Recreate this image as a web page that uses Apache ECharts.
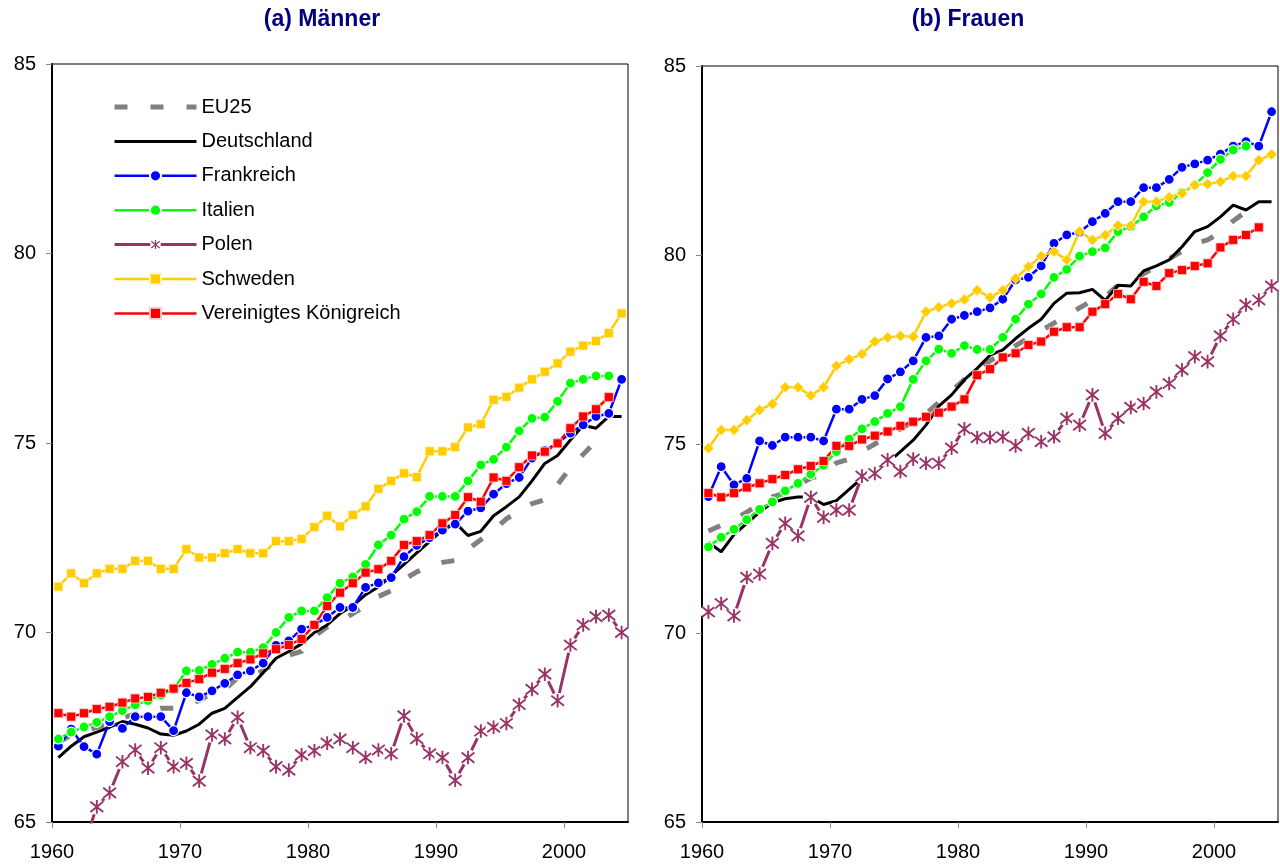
<!DOCTYPE html>
<html>
<head>
<meta charset="utf-8">
<title>Lebenserwartung</title>
<script src="https://cdn.jsdelivr.net/npm/echarts@6.0.0/dist/echarts.min.js"></script>
<style>
  html, body { margin: 0; padding: 0; background: #fff; }
  #chart { width: 1280px; height: 866px; }
</style>
</head>
<body>
<div id="chart"></div>
<script>
// Jahre 1960 - 2004
const years = [1960, 1961, 1962, 1963, 1964, 1965, 1966, 1967, 1968, 1969,
  1970, 1971, 1972, 1973, 1974, 1975, 1976, 1977, 1978, 1979,
  1980, 1981, 1982, 1983, 1984, 1985, 1986, 1987, 1988, 1989,
  1990, 1991, 1992, 1993, 1994, 1995, 1996, 1997, 1998, 1999,
  2000, 2001, 2002, 2003, 2004];
const xTicks = [1960, 1970, 1980, 1990, 2000];

// (a) Männer
const mEU25 = [67.1, 67.3, 67.4, 67.5, 67.6, 67.75, 67.85, 67.9, 68.0, 68.0,
  68.1, 68.2, 68.4, 68.5, 68.8, 68.8, 69.0, 69.2, 69.4, 69.5,
  69.9, 70.15, 70.3, 70.5, 70.7, 70.95, 71.1, 71.4, 71.6, 71.75,
  71.85, 71.9, 72.2, 72.45, 72.7, 73.0, 73.2, 73.4, 73.5, 73.9,
  74.35, 74.7, 75.05, null, null];
const mDE = [66.7, 67.0, 67.25, 67.37, 67.5, 67.65, 67.58, 67.48, 67.32, 67.29,
  67.4, 67.58, 67.87, 68.0, 68.29, 68.57, 68.94, 69.32, 69.5, 69.7,
  70.0, 70.2, 70.5, 70.7, 71.0, 71.2, 71.5, 71.8, 72.1, 72.4,
  72.7, 72.9, 72.56, 72.67, 73.08, 73.32, 73.58, 74.0, 74.46, 74.67,
  75.08, 75.47, 75.39, 75.7, 75.7];
const mFR = [67.0, 67.45, 66.99, 66.79, 67.65, 67.47, 67.78, 67.78, 67.78, 67.41,
  68.41, 68.3, 68.46, 68.66, 68.88, 68.99, 69.19, 69.66, 69.78, 70.09,
  70.2, 70.4, 70.66, 70.66, 71.19, 71.31, 71.45, 72.0, 72.3, 72.5,
  72.7, 72.86, 73.2, 73.29, 73.65, 73.93, 74.09, 74.6, 74.8, 75.0,
  75.26, 75.48, 75.7, 75.78, 76.68];
const mIT = [67.19, 67.37, 67.51, 67.63, 67.78, 67.94, 68.09, 68.2, 68.35, 68.5,
  68.99, 69.0, 69.16, 69.32, 69.48, 69.48, 69.6, 70.0, 70.4, 70.57,
  70.57, 70.92, 71.3, 71.47, 71.8, 72.31, 72.57, 72.99, 73.19, 73.59,
  73.59, 73.59, 74.0, 74.42, 74.57, 74.89, 75.32, 75.65, 75.68, 76.1,
  76.58, 76.68, 76.77, 76.77, null];
const mPL = [64.9, 64.85, 64.4, 65.4, 65.77, 66.59, 66.9, 66.42, 66.96, 66.46,
  66.55, 66.08, 67.3, 67.19, 67.76, 66.96, 66.88, 66.46, 66.37, 66.77,
  66.88, 67.08, 67.19, 66.96, 66.7, 66.9, 66.8, 67.8, 67.2, 66.8,
  66.7, 66.1, 66.7, 67.4, 67.5, 67.6, 68.1, 68.5, 68.9, 68.2,
  69.67, 70.2, 70.42, 70.46, 70.0];
const mSE = [71.21, 71.56, 71.3, 71.56, 71.68, 71.68, 71.89, 71.89, 71.68, 71.68,
  72.2, 71.98, 71.98, 72.09, 72.2, 72.09, 72.09, 72.41, 72.41, 72.47,
  72.78, 73.08, 72.8, 73.1, 73.33, 73.79, 74.0, 74.2, 74.1, 74.78,
  74.78, 74.89, 75.41, 75.5, 76.14, 76.22, 76.46, 76.68, 76.88, 77.1,
  77.41, 77.57, 77.69, 77.9, 78.42];
const mUK = [67.87, 67.78, 67.87, 67.98, 68.04, 68.15, 68.26, 68.3, 68.41, 68.52,
  68.67, 68.77, 68.94, 69.04, 69.19, 69.29, 69.45, 69.56, 69.67, 69.83,
  70.2, 70.7, 71.05, 71.3, 71.58, 71.67, 71.89, 72.31, 72.41, 72.57,
  72.88, 73.1, 73.57, 73.45, 74.09, 74.0, 74.36, 74.67, 74.77, 74.99,
  75.39, 75.7, 75.89, 76.21, null];

// (b) Frauen
const fEU25 = [72.7, 72.85, 73.0, 73.2, 73.4, 73.6, 73.7, 73.9, 74.1, 74.2,
  74.5, 74.6, 74.8, 75.0, 75.2, 75.4, 75.6, 75.8, 76.1, 76.4,
  76.7, 76.9, 77.2, 77.4, 77.6, 77.8, 78.0, 78.2, 78.4, 78.6,
  78.8, 78.9, 79.2, 79.3, 79.5, 79.7, 79.9, 80.1, 80.3, 80.4,
  80.6, 80.9, 81.15, null, null];
const fDE = [72.4, 72.15, 72.6, 72.9, 73.2, 73.45, 73.55, 73.6, 73.6, 73.4,
  73.5, 73.8, 74.1, 74.3, 74.5, 74.8, 75.1, 75.5, 76.0, 76.3,
  76.7, 77.0, 77.35, 77.49, 77.79, 78.06, 78.3, 78.72, 78.99, 79.0,
  79.09, 78.8, 79.2, 79.18, 79.58, 79.71, 79.87, 80.22, 80.62, 80.75,
  81.01, 81.32, 81.19, 81.41, 81.41];
const fFR = [73.61, 74.4, 73.92, 74.09, 75.08, 74.96, 75.18, 75.18, 75.18, 75.08,
  75.92, 75.92, 76.18, 76.28, 76.72, 76.91, 77.2, 77.82, 77.86, 78.3,
  78.4, 78.5, 78.6, 78.83, 79.34, 79.41, 79.71, 80.31, 80.53, 80.6,
  80.88, 81.1, 81.41, 81.41, 81.78, 81.78, 82.0, 82.32, 82.41, 82.51,
  82.67, 82.88, 83.0, 82.88, 83.79];
const fIT = [72.28, 72.53, 72.74, 73.0, 73.27, 73.47, 73.76, 73.96, 74.2, 74.44,
  74.8, 75.13, 75.4, 75.59, 75.81, 75.99, 76.71, 77.2, 77.51, 77.4,
  77.6, 77.5, 77.5, 77.82, 78.3, 78.7, 78.97, 79.41, 79.62, 79.97,
  80.09, 80.19, 80.62, 80.75, 81.01, 81.3, 81.39, 81.65, 81.85, 82.18,
  82.53, 82.78, 82.88, null, null];
const fPL = [70.56, 70.78, 70.45, 71.47, 71.56, 72.37, 72.9, 72.57, 73.59, 73.06,
  73.25, 73.25, 74.15, 74.22, 74.58, 74.27, 74.6, 74.49, 74.49, 74.89,
  75.4, 75.17, 75.17, 75.19, 74.95, 75.28, 75.06, 75.19, 75.68, 75.5,
  76.3, 75.28, 75.68, 75.97, 76.07, 76.38, 76.6, 76.96, 77.31, 77.18,
  77.86, 78.3, 78.68, 78.81, 79.18];
const fSE = [74.89, 75.37, 75.37, 75.63, 75.9, 76.06, 76.5, 76.5, 76.28, 76.5,
  77.07, 77.24, 77.38, 77.71, 77.82, 77.86, 77.84, 78.5, 78.62, 78.72,
  78.82, 79.07, 78.88, 79.07, 79.38, 79.69, 79.97, 80.09, 79.87, 80.62,
  80.4, 80.53, 80.78, 80.78, 81.41, 81.41, 81.53, 81.63, 81.85, 81.88,
  81.94, 82.09, 82.09, 82.51, 82.66];
const fUK = [73.7, 73.59, 73.7, 73.85, 73.96, 74.07, 74.18, 74.33, 74.42, 74.55,
  74.95, 74.95, 75.12, 75.22, 75.33, 75.48, 75.59, 75.72, 75.83, 75.99,
  76.18, 76.82, 76.98, 77.29, 77.4, 77.62, 77.71, 77.97, 78.09, 78.09,
  78.5, 78.7, 78.97, 78.83, 79.29, 79.18, 79.52, 79.6, 79.71, 79.78,
  80.2, 80.4, 80.53, 80.73, null];

const FONT = 'Liberation Sans, Arial, sans-serif';

// Stern-Symbol für Polen (weißer Hintergrund wie in Excel)
const starSvg = '<svg xmlns="http://www.w3.org/2000/svg" width="40" height="40" viewBox="-10 -10 20 20">' +
  '<circle r="9.5" fill="#ffffff"/>' +
  '<path d="M0,-8V8M-7.5,-6L7.5,6M-7.5,6L7.5,-6" stroke="#993366" stroke-width="2.2" fill="none"/></svg>';
const starSymbol = 'image://data:image/svg+xml;charset=utf-8,' + encodeURIComponent(starSvg);

// Werte zur Jahresmitte platzieren
const pairs = (vals) => years.map((y, i) => [y + 0.5, vals[i]]).filter((d) => d[1] != null);

const makeSeries = (idx, d) => [
  {
    name: 'EU25', type: 'line', xAxisIndex: idx, yAxisIndex: idx,
    data: pairs(d.eu), symbol: 'none',
    lineStyle: { color: '#808080', width: 5, type: [13, 23], cap: 'butt' },
    itemStyle: { color: '#808080' },
  },
  {
    name: 'Deutschland', type: 'line', xAxisIndex: idx, yAxisIndex: idx,
    data: pairs(d.de), symbol: 'none',
    lineStyle: { color: '#000000', width: 3 },
    itemStyle: { color: '#000000' },
  },
  {
    name: 'Frankreich', type: 'line', xAxisIndex: idx, yAxisIndex: idx,
    data: pairs(d.fr), symbol: 'circle', symbolSize: 10,
    lineStyle: { color: '#0000ff', width: 2.5 },
    itemStyle: { color: '#0000ff', borderColor: '#ffffff', borderWidth: 1.2 },
  },
  {
    name: 'Italien', type: 'line', xAxisIndex: idx, yAxisIndex: idx,
    data: pairs(d.it), symbol: 'circle', symbolSize: 10,
    lineStyle: { color: '#00ff00', width: 2.5 },
    itemStyle: { color: '#00ff00', borderColor: '#ffffff', borderWidth: 1.2 },
  },
  {
    name: 'Polen', type: 'line', xAxisIndex: idx, yAxisIndex: idx,
    data: pairs(d.pl), symbol: starSymbol, symbolSize: 17,
    lineStyle: { color: '#993366', width: 3 },
    itemStyle: { color: '#993366' },
  },
  {
    name: 'Schweden', type: 'line', xAxisIndex: idx, yAxisIndex: idx,
    data: pairs(d.se), symbol: idx === 0 ? 'rect' : 'diamond', symbolSize: idx === 0 ? 9 : 11,
    lineStyle: { color: '#ffcc00', width: 2.5 },
    itemStyle: { color: '#ffcc00', borderColor: '#fff4cc', borderWidth: 0.8 },
  },
  {
    name: 'Vereinigtes Königreich', type: 'line', xAxisIndex: idx, yAxisIndex: idx,
    data: pairs(d.uk), symbol: 'rect', symbolSize: 9,
    lineStyle: { color: '#ff0000', width: 2.5 },
    itemStyle: { color: '#ff0000', borderColor: '#ffd0d0', borderWidth: 0.8 },
  },
];

const makeX = (idx) => ({
  type: 'value', gridIndex: idx, min: 1960, max: 2005,
  axisLine: { show: true, onZero: false, lineStyle: { color: '#000', width: 2 } },
  axisTick: { show: true, length: 6, customValues: xTicks, lineStyle: { color: '#888', width: 1 } },
  axisLabel: { customValues: xTicks, formatter: (v) => String(v), fontSize: 20, color: '#000', margin: 20, fontFamily: FONT },
  splitLine: { show: false },
});
const makeY = (idx) => ({
  type: 'value', gridIndex: idx, min: 65, max: 85, interval: 5,
  axisLine: { show: true, onZero: false, lineStyle: { color: '#000', width: 2 } },
  axisTick: { show: true, length: 6, lineStyle: { color: '#888', width: 1 } },
  axisLabel: { fontSize: 20, color: '#000', margin: 16, fontFamily: FONT },
  splitLine: { show: false },
});

const chart = echarts.init(document.getElementById('chart'));
chart.setOption({
  animation: false,
  backgroundColor: '#ffffff',
  textStyle: { fontFamily: FONT },
  title: [
    { text: '(a) Männer', left: 317, top: 3, textAlign: 'center',
      textStyle: { fontSize: 23, fontWeight: 'bold', color: '#000080', fontFamily: FONT } },
    { text: '(b) Frauen', left: 963, top: 3, textAlign: 'center',
      textStyle: { fontSize: 23, fontWeight: 'bold', color: '#000080', fontFamily: FONT } },
  ],
  legend: {
    orient: 'vertical', left: 107, top: 92,
    itemWidth: 82, itemHeight: 14, itemGap: 14.4,
    textStyle: { fontSize: 20, color: '#000', fontFamily: FONT },
    lineStyle: { width: 'inherit' },
    selectedMode: false,
    data: [
      { name: 'EU25', itemStyle: { opacity: 0 } },
      { name: 'Deutschland', itemStyle: { opacity: 0 } },
      'Frankreich', 'Italien', 'Polen', 'Schweden', 'Vereinigtes Königreich',
    ],
  },
  grid: [
    { left: 52, top: 64, width: 576, height: 758, show: true, borderColor: '#000', borderWidth: 1 },
    { left: 702, top: 66, width: 576, height: 756, show: true, borderColor: '#000', borderWidth: 1 },
  ],
  xAxis: [makeX(0), makeX(1)],
  yAxis: [makeY(0), makeY(1)],
  series: [
    ...makeSeries(0, { eu: mEU25, de: mDE, fr: mFR, it: mIT, pl: mPL, se: mSE, uk: mUK }),
    ...makeSeries(1, { eu: fEU25, de: fDE, fr: fFR, it: fIT, pl: fPL, se: fSE, uk: fUK }),
  ],
});
</script>
</body>
</html>
